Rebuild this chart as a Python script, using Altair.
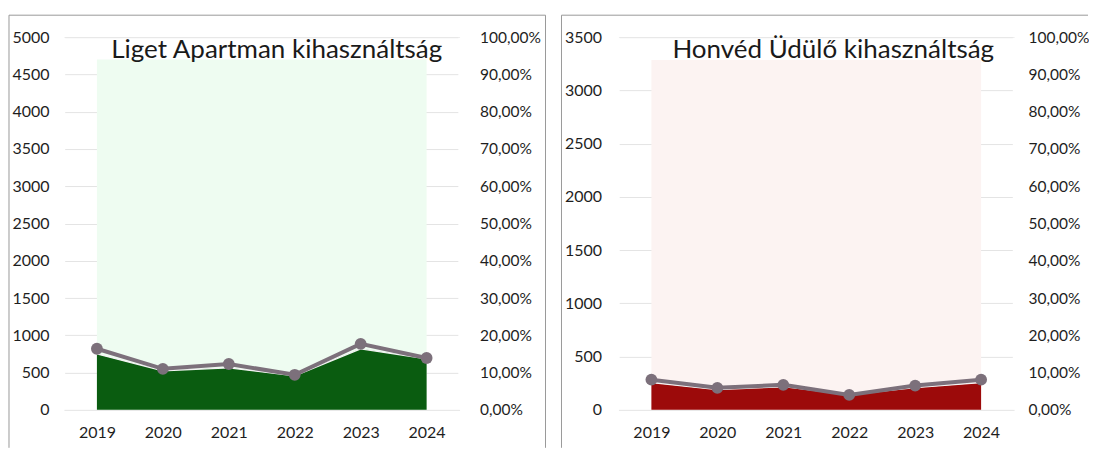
import altair as alt
import pandas as pd

years = ["2019", "2020", "2021", "2022", "2023", "2024"]

liget_capacity = [4700, 4700, 4700, 4700, 4700, 4700]
liget_used = [750, 523, 563, 456, 818, 684]
liget_rate = [0.164, 0.110, 0.123, 0.094, 0.177, 0.139]

honved_capacity = [3285, 3285, 3285, 3285, 3285, 3285]
honved_used = [255, 189, 217, 142, 208, 255]
honved_rate = [0.081, 0.059, 0.067, 0.040, 0.065, 0.081]

FONT = "Lato"
LABEL = "#1e1e1e"
LINE = "#7c707b"
BORDER = "#9a9a9a"
W, H = 396, 373
NOVIEW = alt.ViewBackground(stroke="transparent", strokeWidth=0, strokeOpacity=0)


def panel(title, cap, used, rate, ymax, light, dark, left_pad, right_pad,
          border_left, border_right, draw_right_border, title_x):
    df = pd.DataFrame({"year": years, "cap": cap, "used": used, "rate": rate})
    xenc = alt.X("year:O", scale=alt.Scale(type="point", padding=0.5),
                 axis=alt.Axis(title=None, labelAngle=0, domain=False, ticks=False,
                               grid=False, labelPadding=15, labelFontSize=16,
                               labelFont=FONT, labelColor=LABEL))
    yaxis = alt.Axis(title=None, values=list(range(0, ymax + 1, 500)), format="d",
                     domain=False, ticks=False, labelPadding=left_pad, labelFontSize=16,
                     labelFont=FONT, labelColor=LABEL, gridColor="#e4e4e4", gridWidth=1)
    yscale = alt.Scale(domain=[0, ymax], nice=False)
    base = alt.Chart(df).encode(x=xenc)
    light_area = base.mark_area(color=light, opacity=1).encode(
        y=alt.Y("cap:Q", scale=yscale, axis=yaxis))
    dark_area = base.mark_area(color=dark, opacity=1).encode(
        y=alt.Y("used:Q", scale=yscale, axis=yaxis))
    edge = base.mark_line(color="#f4f4f4", strokeWidth=1.3).encode(
        y=alt.Y("used:Q", scale=yscale, axis=yaxis))
    left_layer = alt.layer(light_area, dark_area, edge).properties(view=NOVIEW)

    pct_axis = alt.Axis(title=None, orient="right",
                        values=[i / 10 for i in range(11)],
                        labelExpr="replace(format(datum.value, '.2%'), '.', ',')",
                        domain=False, ticks=False, grid=False, labelPadding=right_pad,
                        labelFontSize=15.5, labelFont=FONT, labelColor=LABEL)
    rate_line = base.mark_line(
        color=LINE, strokeWidth=4,
        point=alt.OverlayMarkDef(color=LINE, filled=True, size=140, opacity=1),
    ).encode(y=alt.Y("rate:Q", scale=alt.Scale(domain=[0, 1], nice=False), axis=pct_axis))

    deco = pd.DataFrame({"t": [title]})
    title_mark = alt.Chart(deco).mark_text(
        font=FONT, fontSize=26, color="#1a1a1a", align="center", baseline="alphabetic"
    ).encode(text="t:N", x=alt.value(title_x), y=alt.value(21))
    # white covers for the plot-area edge lines (not in the original)
    cover_l = alt.Chart(deco).mark_rule(color="white", strokeWidth=2.5).encode(
        x=alt.value(0), y=alt.value(0.5), y2=alt.value(H - 0.5))
    cover_r = alt.Chart(deco).mark_rule(color="white", strokeWidth=2.5).encode(
        x=alt.value(W), y=alt.value(0.5), y2=alt.value(H - 0.5))
    top_rule = alt.Chart(deco).mark_rule(color=BORDER, strokeWidth=1).encode(
        x=alt.value(border_left), x2=alt.value(border_right), y=alt.value(-22))
    left_rule = alt.Chart(deco).mark_rule(color=BORDER, strokeWidth=1).encode(
        x=alt.value(border_left), y=alt.value(-22), y2=alt.value(411))
    layers = [cover_l, cover_r, top_rule, left_rule]
    if draw_right_border:
        right_rule = alt.Chart(deco).mark_rule(color=BORDER, strokeWidth=1).encode(
            x=alt.value(border_right), y=alt.value(-22), y2=alt.value(411))
        layers.append(right_rule)

    main = alt.layer(left_layer, rate_line).resolve_scale(y="independent").properties(view=NOVIEW)
    return alt.layer(main, title_mark, *layers).properties(width=W, height=H, view=NOVIEW)


left = panel("Liget Apartman kihasználtság", liget_capacity, liget_used, liget_rate,
             5000, "#eefcf1", "#0a5c10", 15, 20, -55, 482, True, 213)
right = panel("Honvéd Üdülő kihasználtság", honved_capacity, honved_used, honved_rate,
              3500, "#fcf3f2", "#9c0a0a", 17, 14, -57, 470, False, 215)

chart = (
    alt.hconcat(left, right, spacing=14)
    .properties(padding={"left": 0, "top": 6, "right": 0, "bottom": 0})
    .configure_view(strokeWidth=0, stroke="transparent")
    .configure_axis(domain=False, ticks=False)
    .configure_axisX(grid=False)
    .configure(font=FONT)
)

chart.save("out.html", embed_options={"renderer": "svg", "actions": False})
